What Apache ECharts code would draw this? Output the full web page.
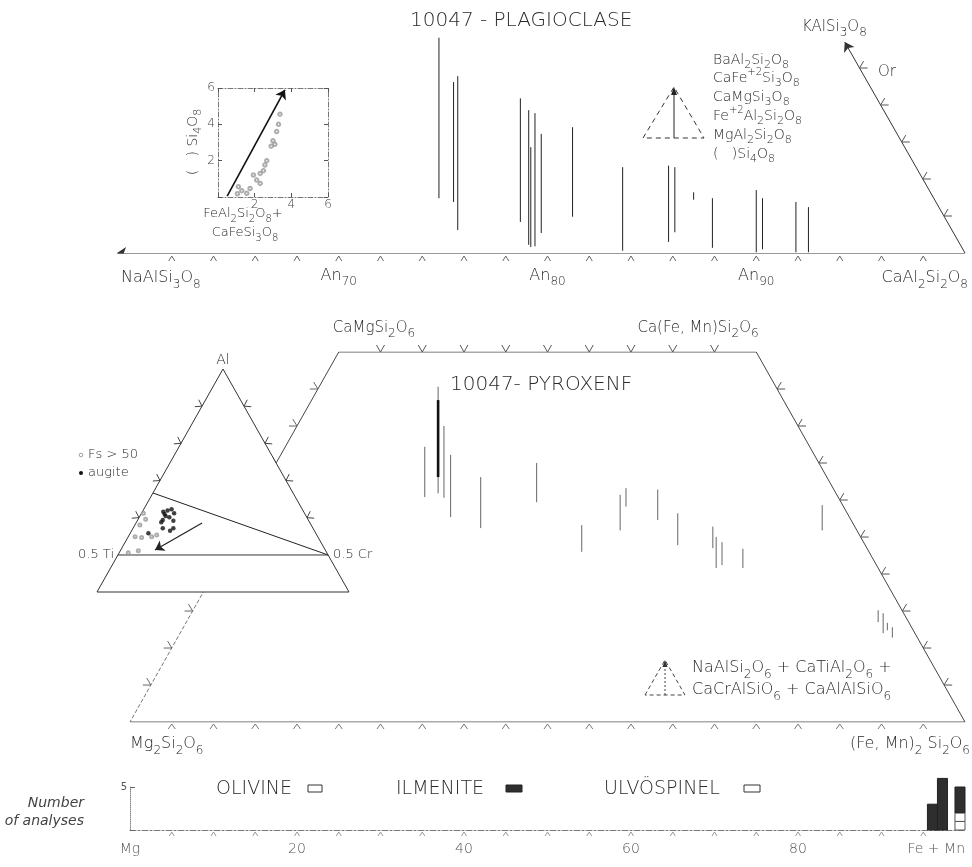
<!DOCTYPE html>
<html>
<head>
<meta charset="utf-8">
<title>10047 – plagioclase, pyroxene and opaque mineral compositions</title>
<script src="https://cdn.jsdelivr.net/npm/echarts@6/dist/echarts.min.js"></script>
<style>
html, body { margin: 0; padding: 0; background: #fff; }
#chart { width: 972px; height: 867px; }
</style>
</head>
<body>
<div id="chart"></div>
<script>
// ---------------- Plagioclase (position = mol% An, height = minor-component units) ----------------
const plagAnTicks = [62, 64, 66, 68, 70, 72, 74, 76, 78, 80, 82, 84, 86, 88, 90, 92, 94, 96, 98];
const plagAnLabels = [70, 80, 90];
const plagOrTicks = [5, 10, 15, 20, 25];
const plagOrVertex = [94.24, 28.5];
// [An, low end, high end]
const plagLines = [
  [74.8, 7.4, 29.1], [75.5, 6.9, 23.1], [75.7, 3.1, 23.9], [78.7, 4.2, 20.9],
  [79.1, 1.1, 19.3], [79.2, 0.8, 14.3], [79.4, 0.9, 18.9], [79.7, 2.7, 16.1],
  [81.2, 4.9, 17.0], [83.6, 0.3, 11.6], [85.8, 1.5, 11.8], [86.1, 2.8, 11.6],
  [87.0, 7.2, 8.2], [87.9, 0.7, 7.4], [90.0, 0.1, 8.5], [90.3, 0.5, 7.4],
  [91.9, 0.1, 6.9], [92.5, 0.1, 6.2]
];

// inset: ( )Si4O8 against FeAl2Si2O8 + CaFeSi3O8
const insetTicks = [0, 2, 4, 6];
const insetPoints = [
  [1.11, 0.57], [1.57, 0.20], [1.75, 0.47], [1.06, 0.18], [1.30, 0.35],
  [1.93, 1.21], [2.11, 0.93], [2.30, 1.30], [2.30, 0.75], [2.56, 1.76],
  [2.66, 2.00], [2.48, 1.45], [3.00, 3.10], [3.10, 2.90], [2.90, 2.80],
  [3.30, 4.00], [3.38, 4.56], [3.20, 3.60]
];
const insetTrend = [[0.5, 0.05], [3.65, 5.9]];

// ---------------- Pyroxene quadrilateral (position along En–Fs, Wo up to 50) ----------------
const pyxBaseTicks = [5, 10, 15, 20, 25, 30, 35, 40, 45, 50, 55, 60, 65, 70, 75, 80, 85, 90, 95];
const pyxTopTicks = [30, 35, 40, 45, 50, 55, 60, 65, 70];
const pyxWoTicks = [5, 10, 15, 20, 25, 30, 35, 40, 45];
// [position, low end, high end]
const pyxLines = [
  [35.3, 30.4, 37.2], [36.9, 30.9, 45.3], [37.6, 30.3, 40.0], [38.4, 27.7, 36.1],
  [42.0, 26.2, 33.1], [48.7, 29.7, 35.0], [54.1, 23.0, 26.6], [58.7, 25.9, 30.7],
  [59.4, 29.1, 31.6], [63.2, 27.3, 31.4], [65.6, 23.9, 28.2], [69.8, 23.5, 26.4],
  [70.2, 20.8, 25.0], [70.9, 21.2, 24.3], [73.4, 20.8, 23.4], [82.9, 25.9, 29.3],
  [89.6, 13.5, 15.1], [90.2, 12.0, 14.7], [90.7, 12.4, 13.4], [91.3, 11.4, 12.8]
];
const pyxHeavy = [[36.9, 33.1, 43.5]];

// Al – Ti – Cr inset (cartesian frame of the ternary)
const atcCorners = [[0, 0], [1, 0], [0.5, 1]];
const atcSideTicks = [2 / 6, 3 / 6, 4 / 6, 5 / 6];
const atcAugite = [
  [0.263, 0.360], [0.272, 0.341], [0.261, 0.323], [0.255, 0.313], [0.296, 0.371],
  [0.306, 0.353], [0.287, 0.335], [0.303, 0.320], [0.261, 0.286], [0.290, 0.275],
  [0.303, 0.286], [0.204, 0.263], [0.268, 0.350], [0.280, 0.365]
];
const atcFsRich = [
  [0.184, 0.353], [0.193, 0.326], [0.151, 0.248], [0.177, 0.244], [0.217, 0.248],
  [0.237, 0.256], [0.164, 0.185], [0.124, 0.176], [0.170, 0.300]
];
const atcTrend = [[0.417, 0.309], [0.230, 0.188]];
const atcBoundaries = [
  [[0.222, 0.444], [0.917, 0.166]],
  [[0.083, 0.166], [0.917, 0.166]]
];

// ---------------- Opaques / olivine histogram ----------------
const histTickValues = [0, 20, 40, 60, 80, 100];
const histTickText = ['Mg', '20', '40', '60', '80', 'Fe + Mn'];
const histMinorTicks = [5, 10, 15, 20, 25, 30, 35, 40, 45, 50, 55, 60, 65, 70, 75, 80, 85, 90, 95];
const histBins = [[95.5, 96.7], [96.7, 97.9], [98.8, 100.0]];
const olivineCounts = [0, 0, 1];
const ulvospinelCounts = [0, 0, 1];
const ilmeniteCounts = [3, 6, 3];

// ------------------------------------------------------------------------------------------
const FONT = "'DejaVu Sans', 'Liberation Sans', sans-serif";
const WEIGHT = 200;
const INK = '#2a2a2a';

function subRich(fs, color) {
  const base = { fontFamily: FONT, fontWeight: WEIGHT, fill: color, color: color };
  return {
    s: Object.assign({ fontSize: Math.round(fs * 0.78), lineHeight: Math.round(fs * 0.9), verticalAlign: 'bottom' }, base),
    u: Object.assign({ fontSize: Math.round(fs * 0.72), lineHeight: Math.round(fs * 0.85), verticalAlign: 'top' }, base)
  };
}

function txt(x, y, text, o) {
  o = o || {};
  const fs = o.size || 13;
  const color = o.color || INK;
  return {
    type: 'text', x: x, y: y, rotation: o.rot || 0, silent: true, z: 100,
    style: {
      text: text, fill: color, fontSize: fs, fontFamily: FONT,
      fontWeight: o.weight || WEIGHT, fontStyle: o.italic ? 'italic' : 'normal',
      align: o.align || 'left', textAlign: o.align || 'left',
      verticalAlign: 'middle', textVerticalAlign: 'middle',
      lineHeight: Math.round(fs * 1.6),
      rich: subRich(fs, color)
    }
  };
}

// straight sticks at a fixed position between two heights
function sticks(xi, yi, data, color, width, z) {
  return {
    type: 'custom', xAxisIndex: xi, yAxisIndex: yi, silent: true, z: z || 8, data: data,
    renderItem: function (params, api) {
      const a = api.coord([api.value(0), api.value(1)]);
      const b = api.coord([api.value(0), api.value(2)]);
      return { type: 'line', shape: { x1: a[0], y1: a[1], x2: b[0], y2: b[1] },
        style: { stroke: color, lineWidth: width } };
    }
  };
}

// arrow-head tick marks sitting on an edge, opening away from the diagram interior
function chevrons(xi, yi, A, B, inside, pts, o) {
  o = Object.assign({ len: 5, half: 3.5, gap: 0, color: '#555', width: 1, z: 9 }, o || {});
  return {
    type: 'custom', xAxisIndex: xi, yAxisIndex: yi, silent: true, z: o.z, data: pts,
    renderItem: function (params, api) {
      const P = api.coord([api.value(0), api.value(1)]);
      const a = api.coord(A), b = api.coord(B), c = api.coord(inside);
      let ex = b[0] - a[0], ey = b[1] - a[1];
      const L = Math.hypot(ex, ey); ex /= L; ey /= L;
      let nx = -ey, ny = ex;
      if ((c[0] - P[0]) * nx + (c[1] - P[1]) * ny > 0) { nx = -nx; ny = -ny; }
      const vx = P[0] + nx * o.gap, vy = P[1] + ny * o.gap;
      const fx = vx + nx * o.len, fy = vy + ny * o.len;
      return { type: 'polyline',
        shape: { points: [[fx + ex * o.half, fy + ey * o.half], [vx, vy], [fx - ex * o.half, fy - ey * o.half]] },
        style: { stroke: o.color, lineWidth: o.width, fill: null } };
    }
  };
}

function edge(xi, yi, pts, style, z) {
  return { type: 'line', xAxisIndex: xi, yAxisIndex: yi, data: pts, symbol: 'none', silent: true,
    z: z || 4, lineStyle: Object.assign({ color: '#444', width: 1 }, style || {}) };
}

function arrow(xi, yi, from, to, o) {
  return { type: 'lines', coordinateSystem: 'cartesian2d', xAxisIndex: xi, yAxisIndex: yi, silent: true,
    z: o.z || 9, symbol: ['none', 'arrow'], symbolSize: o.size || 8,
    lineStyle: { color: o.color || INK, width: o.width || 1, type: o.type || 'solid', opacity: 1, curveness: 0 },
    data: [{ coords: [from, to] }] };
}

function hidden(gridIndex, min, max) {
  return { gridIndex: gridIndex, type: 'value', min: min, max: max, show: false,
    splitLine: { show: false }, axisLine: { show: false }, axisTick: { show: false }, axisLabel: { show: false } };
}

// ---------------- derived tick positions ----------------
const plagBaseTickPts = plagAnTicks.map(v => [v, 0]);
const plagOrTickPts = plagOrTicks.map(y => [100 + (plagOrVertex[0] - 100) * y / plagOrVertex[1], y]);
const pyxBasePts = pyxBaseTicks.map(v => [v, 0]);
const pyxTopPts = pyxTopTicks.map(v => [v, 50]);
const pyxLeftPts = pyxWoTicks.map(w => [w / 2, w]);
const pyxRightPts = pyxWoTicks.map(w => [100 - w / 2, w]);
const atcLeftPts = atcSideTicks.map(t => [t / 2, t]);
const atcRightPts = atcSideTicks.map(t => [1 - t / 2, t]);
const histMinorPts = histMinorTicks.map(v => [v, 0]);

// stacked histogram bars: [x0, x1, bottom, top]
function stackBars(lower, counts) {
  return histBins.map((b, i) => [b[0], b[1], lower[i], lower[i] + counts[i]]).filter(d => d[3] > d[2]);
}
const zeroCounts = histBins.map(() => 0);
const olivineBars = stackBars(zeroCounts, olivineCounts);
const ulvoBars = stackBars(olivineCounts, ulvospinelCounts);
const ilmBase = olivineCounts.map((v, i) => v + ulvospinelCounts[i]);
const ilmeniteBars = stackBars(ilmBase, ilmeniteCounts);

function barSeries(data, fill, stroke) {
  return {
    type: 'custom', xAxisIndex: 5, yAxisIndex: 5, silent: true, z: 8, clip: false, data: data,
    renderItem: function (params, api) {
      const p0 = api.coord([api.value(0), api.value(2)]);
      const p1 = api.coord([api.value(1), api.value(3)]);
      return { type: 'rect', shape: { x: p0[0], y: p1[1], width: p1[0] - p0[0], height: p0[1] - p1[1] },
        style: { fill: fill, stroke: stroke, lineWidth: 1 } };
    }
  };
}

// axis indices: 0 plagioclase, 1/2 plagioclase inset, 3 pyroxene, 4 Al-Ti-Cr, 5 histogram
const PX = 3, PY = 3, AX = 4, AY = 4, HX = 5, HY = 5;

const insetAxisLine = { show: true, onZero: false, lineStyle: { color: '#777', width: 1, type: [5, 2, 1, 2] } };
const insetAxisTick = { show: true, inside: true, length: 4, lineStyle: { color: '#555' } };
const anRich = {
  a: { fontFamily: FONT, fontWeight: WEIGHT, fontSize: 16, color: INK, lineHeight: 24, verticalAlign: 'middle' },
  s: { fontFamily: FONT, fontWeight: WEIGHT, fontSize: 12, color: INK, lineHeight: 13, verticalAlign: 'bottom' }
};

const option = {
  animation: false,
  backgroundColor: '#fff',
  textStyle: { fontFamily: FONT },
  grid: [
    { left: 117.06, width: 847.94, top: 1.4, height: 251.6, outerBoundsMode: 'none' },   // plagioclase
    { left: 218, width: 110, top: 88, height: 109, outerBoundsMode: 'none' },            // plagioclase inset
    { left: 130, width: 835, top: 352, height: 370, outerBoundsMode: 'none' },           // pyroxene quadrilateral
    { left: 97, width: 252, top: 369, height: 223, outerBoundsMode: 'none' },            // Al-Ti-Cr inset
    { left: 130, width: 835, top: 787, height: 43, outerBoundsMode: 'none' }             // histogram
  ],
  xAxis: [
    { gridIndex: 0, type: 'value', min: 59.38, max: 100, splitLine: { show: false },
      axisLine: { show: false }, axisTick: { show: false },
      axisLabel: { show: true, customValues: plagAnLabels, margin: 11,
        formatter: v => '{a|An}{s|' + v + '}', rich: anRich } },
    { gridIndex: 1, type: 'value', min: 0, max: 6, interval: 2, position: 'bottom', splitLine: { show: false },
      axisLine: insetAxisLine, axisTick: insetAxisTick,
      axisLabel: { show: true, fontSize: 12, color: '#444', fontWeight: WEIGHT, margin: 2,
        formatter: v => (v === insetTicks[0] ? '' : String(v)) } },
    { gridIndex: 1, type: 'value', min: 0, max: 6, interval: 2, position: 'top', splitLine: { show: false },
      axisLine: insetAxisLine, axisTick: insetAxisTick, axisLabel: { show: false } },
    hidden(2, 0, 100),
    hidden(3, 0, 1),
    { gridIndex: 4, type: 'value', min: 0, max: 100, interval: 20, splitLine: { show: false },
      axisLine: { show: true, onZero: false, lineStyle: { color: '#777', width: 1, type: [6, 2, 2, 2] } },
      axisTick: { show: false },
      axisLabel: { show: true, color: '#555', fontSize: 14, fontWeight: WEIGHT, margin: 12, alignMaxLabel: 'right',
        formatter: v => histTickText[histTickValues.indexOf(v)] } }
  ],
  yAxis: [
    hidden(0, 0, 34),
    { gridIndex: 1, type: 'value', min: 0, max: 6, interval: 2, position: 'left', splitLine: { show: false },
      axisLine: insetAxisLine, axisTick: insetAxisTick,
      axisLabel: { show: true, fontSize: 12, color: '#444', fontWeight: WEIGHT, margin: 3,
        formatter: v => (v === insetTicks[0] ? '' : String(v)) } },
    { gridIndex: 1, type: 'value', min: 0, max: 6, interval: 2, position: 'right', splitLine: { show: false },
      axisLine: insetAxisLine, axisTick: insetAxisTick, axisLabel: { show: false } },
    hidden(2, 0, 50),
    hidden(3, 0, 1),
    { gridIndex: 4, type: 'value', min: 0, max: 5, interval: 5, splitLine: { show: false },
      axisLine: { show: true, onZero: false, lineStyle: { color: '#888', width: 1, type: 'dotted' } },
      axisTick: { show: true, inside: true, length: 5, lineStyle: { color: '#666' } },
      axisLabel: { show: true, fontSize: 10, color: '#555', margin: 3, formatter: v => (v === 5 ? '5' : '') } }
  ],
  series: [
    // ---- plagioclase frame ----
    arrow(0, 0, [100, 0], [59.38, 0], { size: [6, 9], color: '#333' }),
    arrow(0, 0, [100, 0], plagOrVertex, { size: [6, 9], color: '#333' }),
    chevrons(0, 0, [60, 0], [100, 0], [80, 10], plagBaseTickPts, { gap: 3, len: 5, half: 3, color: '#666' }),
    chevrons(0, 0, [100, 0], plagOrVertex, [80, 5], plagOrTickPts, { len: 7, half: 4, color: '#555' }),
    sticks(0, 0, plagLines, '#222', 1),

    // ---- plagioclase inset ----
    { type: 'scatter', xAxisIndex: 1, yAxisIndex: 1, silent: true, z: 6, symbol: 'emptyCircle', symbolSize: 3.5,
      itemStyle: { color: '#999', borderColor: '#999', borderWidth: 0.8 }, data: insetPoints },
    arrow(1, 1, insetTrend[0], insetTrend[1], { size: [6, 9], color: '#111', width: 1.6 }),

    // ---- pyroxene quadrilateral ----
    edge(PX, PY, [[25, 50], [75, 50]], { color: '#555' }),
    edge(PX, PY, [[75, 50], [100, 0]], { color: '#444' }),
    edge(PX, PY, [[0, 0], [100, 0]], { color: '#555' }),
    edge(PX, PY, [[25, 50], [12.5, 25]], { color: '#444' }),
    edge(PX, PY, [[12.5, 25], [0, 0]], { color: '#777', type: [4, 2] }),
    chevrons(PX, PY, [0, 0], [100, 0], [50, 25], pyxBasePts, { gap: 2, len: 5, half: 3.5, color: '#777' }),
    chevrons(PX, PY, [25, 50], [75, 50], [50, 25], pyxTopPts, { len: 7, half: 4, color: '#555' }),
    chevrons(PX, PY, [0, 0], [25, 50], [50, 25], pyxLeftPts, { len: 7, half: 4, color: '#666' }),
    chevrons(PX, PY, [100, 0], [75, 50], [50, 25], pyxRightPts, { len: 7, half: 4, color: '#555' }),
    sticks(PX, PY, pyxLines, '#666', 1),
    sticks(PX, PY, pyxHeavy, '#111', 2.6, 9),

    // ---- Al-Ti-Cr inset ----
    { type: 'custom', xAxisIndex: AX, yAxisIndex: AY, silent: true, z: 20, data: [[0.5, 0.5]],
      renderItem: function (params, api) {
        return { type: 'polygon', shape: { points: atcCorners.map(c => api.coord(c)) },
          style: { fill: '#fff', stroke: '#333', lineWidth: 1 } };
      } },
    edge(AX, AY, atcBoundaries[0], { color: '#222' }, 21),
    edge(AX, AY, atcBoundaries[1], { color: '#333' }, 21),
    chevrons(AX, AY, [0, 0], [0.5, 1], [0.5, 0.4], atcLeftPts, { len: 6, half: 4, color: '#444', z: 21 }),
    chevrons(AX, AY, [1, 0], [0.5, 1], [0.5, 0.4], atcRightPts, { len: 6, half: 4, color: '#444', z: 21 }),
    { type: 'scatter', xAxisIndex: AX, yAxisIndex: AY, silent: true, z: 22, symbol: 'emptyCircle', symbolSize: 3,
      itemStyle: { color: '#999', borderColor: '#999', borderWidth: 0.8 }, data: atcFsRich },
    { type: 'scatter', xAxisIndex: AX, yAxisIndex: AY, silent: true, z: 22, symbol: 'circle', symbolSize: 4.5,
      itemStyle: { color: '#111' }, data: atcAugite },
    arrow(AX, AY, atcTrend[0], atcTrend[1], { size: [6, 9], color: '#222', width: 1.2, z: 22 }),

    // ---- histogram ----
    chevrons(HX, HY, [0, 0], [100, 0], [50, 3], histMinorPts, { gap: 2, len: 4, half: 2.5, color: '#999' }),
    barSeries(olivineBars, '#fff', '#555'),
    barSeries(ulvoBars, '#fff', '#555'),
    barSeries(ilmeniteBars, '#2e2e2e', '#222')
  ],
  graphic: { elements: [
    // plagioclase
    txt(410, 21, '10047 - PLAGIOCLASE', { size: 20 }),
    txt(802, 27, 'KAlSi{s|3}O{s|8}', { size: 15 }),
    txt(878, 72, 'Or', { size: 15 }),
    txt(713, 60, 'BaAl{s|2}Si{s|2}O{s|8}', { size: 14 }),
    txt(713, 78, 'CaFe{u|+2}Si{s|3}O{s|8}', { size: 14 }),
    txt(713, 97, 'CaMgSi{s|3}O{s|8}', { size: 14 }),
    txt(713, 116, 'Fe{u|+2}Al{s|2}Si{s|2}O{s|8}', { size: 14 }),
    txt(713, 135, 'MgAl{s|2}Si{s|2}O{s|8}', { size: 14 }),
    txt(713, 154, '(   )Si{s|4}O{s|8}', { size: 14 }),
    { type: 'polyline', silent: true, z: 100, shape: { points: [[643, 138], [674, 87], [704, 138], [643, 138]] },
      style: { stroke: '#333', lineWidth: 1, lineDash: [5, 4], fill: null } },
    { type: 'line', silent: true, z: 100, shape: { x1: 674, y1: 138, x2: 674, y2: 90 }, style: { stroke: '#222', lineWidth: 1 } },
    { type: 'polygon', silent: true, z: 100, shape: { points: [[674, 87], [671, 95], [677, 95]] }, style: { fill: '#222' } },
    txt(121, 278, 'NaAlSi{s|3}O{s|8}', { size: 16 }),
    txt(968, 278, 'CaAl{s|2}Si{s|2}O{s|8}', { size: 16, align: 'right' }),
    txt(193, 142, '(   ) Si{s|4}O{s|8}', { size: 14, align: 'center', rot: Math.PI / 2 }),
    txt(243, 214, 'FeAl{s|2}Si{s|2}O{s|8}+', { size: 13, align: 'center' }),
    txt(245, 233, 'CaFeSi{s|3}O{s|8}', { size: 13, align: 'center' }),

    // pyroxene
    txt(374, 328, 'CaMgSi{s|2}O{s|6}', { size: 15, align: 'center' }),
    txt(698, 328, 'Ca(Fe, Mn)Si{s|2}O{s|6}', { size: 15, align: 'center' }),
    txt(450, 385, '10047- PYROXENF', { size: 20 }),
    txt(130, 744, 'Mg{s|2}Si{s|2}O{s|6}', { size: 16 }),
    txt(970, 744, '(Fe, Mn){s|2} Si{s|2}O{s|6}', { size: 16, align: 'right' }),
    txt(692, 668, 'NaAlSi{s|2}O{s|6} + CaTiAl{s|2}O{s|6} +', { size: 16 }),
    txt(692, 690, 'CaCrAlSiO{s|6} + CaAlAlSiO{s|6}', { size: 16 }),
    { type: 'polyline', silent: true, z: 100, shape: { points: [[645, 695], [665, 660], [685, 695], [645, 695]] },
      style: { stroke: '#444', lineWidth: 1, lineDash: [4, 3], fill: null } },
    { type: 'line', silent: true, z: 100, shape: { x1: 665, y1: 695, x2: 665, y2: 664 }, style: { stroke: '#444', lineWidth: 1, lineDash: [2, 2] } },
    { type: 'polygon', silent: true, z: 100, shape: { points: [[665, 660], [662.5, 667], [667.5, 667]] }, style: { fill: '#333' } },
    txt(223, 360, 'Al', { size: 14, align: 'center' }),
    txt(114, 555, '0.5 Ti', { size: 13, align: 'right' }),
    txt(333, 555, '0.5 Cr', { size: 13 }),
    { type: 'circle', silent: true, z: 100, shape: { cx: 81, cy: 455, r: 1.8 }, style: { fill: null, stroke: '#888', lineWidth: 0.8 } },
    txt(88, 455, 'Fs > 50', { size: 13 }),
    { type: 'circle', silent: true, z: 100, shape: { cx: 81, cy: 473, r: 2 }, style: { fill: '#111' } },
    txt(88, 473, 'augite', { size: 13 }),

    // histogram
    txt(84, 803, 'Number', { size: 14, align: 'right', italic: true, color: '#444' }),
    txt(84, 821, 'of analyses', { size: 14, align: 'right', italic: true, color: '#444' }),
    txt(216, 789, 'OLIVINE', { size: 19 }),
    { type: 'rect', silent: true, z: 100, shape: { x: 308, y: 785, width: 14, height: 7 }, style: { fill: '#fff', stroke: '#333', lineWidth: 1 } },
    txt(396, 789, 'ILMENITE', { size: 19 }),
    { type: 'rect', silent: true, z: 100, shape: { x: 506, y: 785, width: 16, height: 7 }, style: { fill: '#2e2e2e', stroke: '#222', lineWidth: 1 } },
    txt(604, 789, 'ULVÖSPINEL', { size: 19 }),
    { type: 'rect', silent: true, z: 100, shape: { x: 744, y: 785, width: 16, height: 7 }, style: { fill: '#fff', stroke: '#333', lineWidth: 1 } }
  ] }
};

const chart = echarts.init(document.getElementById('chart'), null, { renderer: 'canvas' });
chart.setOption(option);
</script>
</body>
</html>
